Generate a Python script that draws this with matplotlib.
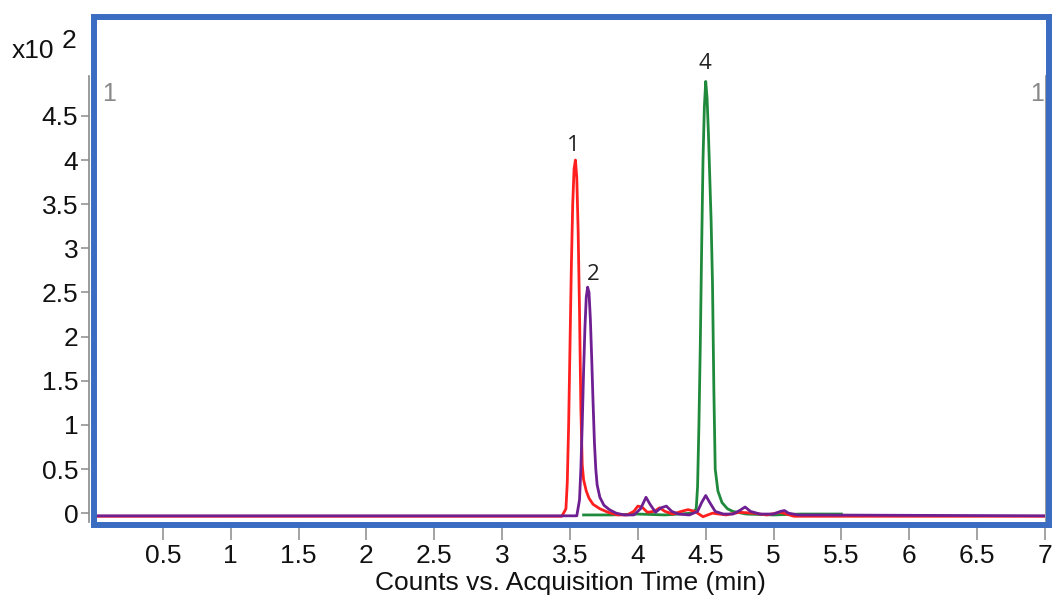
import matplotlib
matplotlib.use("Agg")
import matplotlib.pyplot as plt
from matplotlib.patches import Rectangle

plt.rcParams['font.family'] = ['Liberation Sans', 'DejaVu Sans']

# ---- data (counts x10^2 vs acquisition time, min) ----
red_t = [0.0, 3.44, 3.47, 3.48, 3.49, 3.50, 3.51, 3.52, 3.53, 3.54, 3.55, 3.56, 3.57, 3.58,
         3.59, 3.60, 3.62, 3.64, 3.67, 3.72, 3.78,
         3.85, 3.92, 3.97, 4.00, 4.03, 4.07, 4.12, 4.16, 4.20, 4.26, 4.32, 4.37, 4.42, 4.48,
         4.55, 4.65, 4.75, 4.85, 4.95, 5.05, 5.15, 7.0]
red_v = [-0.035, -0.035, 0.05, 0.35, 1.0, 1.9, 2.8, 3.5, 3.9, 4.0, 3.8, 3.2, 2.3, 1.2,
         0.55, 0.38, 0.25, 0.17, 0.1, 0.05, 0.01,
         -0.02, -0.02, 0.02, 0.08, 0.07, 0.01, 0.02, 0.06, 0.02, -0.01, 0.02, 0.04, 0.02, -0.04,
         0.0, -0.02, 0.01, 0.0, -0.02, 0.01, -0.035, -0.035]

purple_t = [0.0, 3.55, 3.57, 3.58, 3.59, 3.60, 3.61, 3.62, 3.63, 3.64, 3.65, 3.66, 3.67, 3.68,
            3.69, 3.70, 3.72, 3.75, 3.79, 3.84, 3.90,
            3.97, 4.02, 4.06, 4.09, 4.13, 4.17, 4.21, 4.25, 4.30, 4.38, 4.44, 4.47, 4.50, 4.53,
            4.57, 4.63, 4.70, 4.75, 4.79, 4.83, 4.90, 5.00, 5.05, 5.08, 5.11, 5.18, 7.0]
purple_v = [-0.03, -0.03, 0.15, 0.5, 1.0, 1.6, 2.1, 2.45, 2.56, 2.5, 2.2, 1.75, 1.25, 0.8,
            0.5, 0.32, 0.18, 0.09, 0.04, 0.0, -0.02,
            -0.02, 0.05, 0.18, 0.1, 0.01, 0.06, 0.08, 0.02, -0.01, -0.02, 0.02, 0.12, 0.2, 0.12,
            0.02, -0.01, -0.01, 0.03, 0.07, 0.02, -0.01, -0.01, 0.02, 0.03, 0.0, -0.02, -0.03]

green_t = [3.60, 3.80, 4.00, 4.20, 4.40, 4.43, 4.44, 4.45, 4.46, 4.47, 4.48, 4.49, 4.50, 4.51,
           4.52, 4.53, 4.54, 4.55, 4.56, 4.57, 4.59, 4.62, 4.66, 4.70, 4.80, 5.00, 5.20, 5.50]
green_v = [-0.02, -0.02, -0.01, -0.02, 0.0, 0.05, 0.3, 1.0, 1.9, 3.0, 4.0, 4.6, 4.89, 4.7,
           4.3, 3.8, 3.3, 2.6, 1.4, 0.5, 0.25, 0.12, 0.05, 0.02, -0.01, -0.02, -0.01, -0.01]

x_ticks = [0.5, 1, 1.5, 2, 2.5, 3, 3.5, 4, 4.5, 5, 5.5, 6, 6.5, 7]
x_labels = ["0.5", "1", "1.5", "2", "2.5", "3", "3.5", "4", "4.5", "5", "5.5", "6", "6.5", "7"]
y_ticks = [0, 0.5, 1, 1.5, 2, 2.5, 3, 3.5, 4, 4.5]
y_labels = ["0", "0.5", "1", "1.5", "2", "2.5", "3", "3.5", "4", "4.5"]

peak_labels = ["1", "2", "4"]
peak_x = [3.525, 3.67, 4.495]
peak_y = [4.04, 2.59, 4.98]

W, H = 1056, 603
fig = plt.figure(figsize=(W / 100, H / 100), dpi=100)
fig.patch.set_facecolor("white")

def fx(px):
    return px / W

def fy(py):
    return 1 - py / H

ax = fig.add_axes([fx(95), fy(522), fx(1045) - fx(95), fy(17) - fy(522)])
ax.set_xlim(0, 7.0)
ax.set_ylim(-0.10, 5.62)

ax.plot(green_t, green_v, color="#1f8a3c", lw=2.0, zorder=3)
ax.plot(red_t, red_v, color="#ff1f1f", lw=2.0, zorder=4)
ax.plot(purple_t, purple_v, color="#6e1f91", lw=2.0, zorder=5)

for lab, px_, py_ in zip(peak_labels, peak_x, peak_y):
    ax.text(px_, py_, lab, ha="center", va="bottom", fontsize=16, color="#222222",
            family=["Open Sans", "DejaVu Sans"])

gray = "#8a8a8a"
for s in ["top", "bottom"]:
    ax.spines[s].set_visible(False)
for s in ["left", "right"]:
    ax.spines[s].set_color(gray)
    ax.spines[s].set_linewidth(1.2)
    ax.spines[s].set_bounds(-0.10, 4.95)
ax.spines["left"].set_position(("outward", 4))
ax.spines["right"].set_position(("outward", 1))

ax.set_xticks(x_ticks)
ax.set_xticklabels(x_labels)
ax.set_yticks(y_ticks)
ax.set_yticklabels(y_labels)
ax.tick_params(axis="x", direction="out", length=13, width=1.1, color=gray, pad=3,
               labelsize=19, labelcolor="#111111")
ax.tick_params(axis="y", direction="out", length=6, width=1.1, color=gray, pad=2,
               labelsize=19, labelcolor="#111111", right=False)
ax.set_xlabel("Counts vs. Acquisition Time (min)", fontsize=19, color="#111111", labelpad=2)

# gray "1" markers near the top of the side lines
ax.text(0.05, 4.75, "1", fontsize=18, color="#888888", ha="left", va="center")
ax.text(6.99, 4.75, "1", fontsize=18, color="#888888", ha="right", va="center")

# multiplier label
fig.text(fx(12), fy(51), "x10", fontsize=19, color="#111111", ha="left", va="center")
fig.text(fx(62), fy(41), "2", fontsize=19, color="#111111", ha="left", va="center")

# blue frame
frame = Rectangle((fx(94), fy(525)), fx(1049) - fx(94), fy(17) - fy(525),
                  transform=fig.transFigure, fill=False, edgecolor="#3a6cc2",
                  lw=4.3, zorder=10)
fig.add_artist(frame)

fig.savefig("out.png", dpi=100)
